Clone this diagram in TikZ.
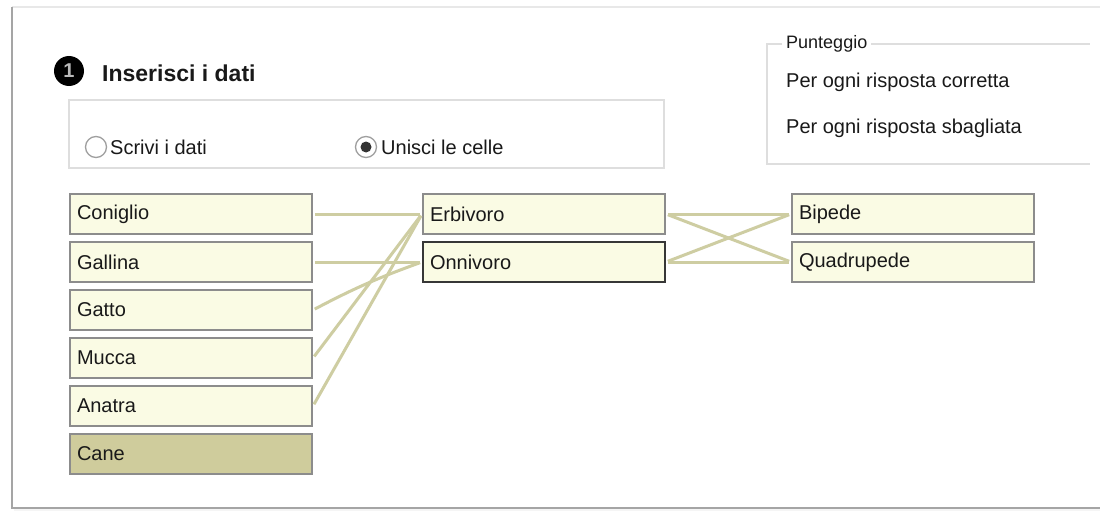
\documentclass[tikz,border=0pt]{standalone}
\usepackage{fontspec}
\setmainfont{Liberation Sans}
\definecolor{cellfill}{RGB}{250,251,228}
\definecolor{cellborder}{RGB}{140,140,140}
\definecolor{selfill}{RGB}{207,204,156}
\definecolor{linkcol}{RGB}{206,205,162}
\definecolor{framecol}{RGB}{165,165,165}
\definecolor{boxline}{RGB}{222,222,222}
\definecolor{txt}{RGB}{25,25,25}
\tikzset{
  cell/.style={rectangle, draw=cellborder, line width=2pt, fill=cellfill,
    anchor=north west, minimum height=40pt, text width=228pt, inner xsep=7pt,
    inner ysep=0pt, align=left, font=\fontsize{20}{24}\selectfont, text=txt},
  link/.style={draw=linkcol, line width=3pt, shorten <=2pt, shorten >=2pt},
  plain/.style={anchor=west, inner sep=0pt, font=\fontsize{20}{24}\selectfont, text=txt},
}
\begin{document}
\begin{tikzpicture}[x=1pt,y=-1pt]
\useasboundingbox (0,0) rectangle (1100,511);
\fill[white] (0,0) rectangle (1100,511);
% outer panel
\fill[gray!8] (14,9) rectangle (1100,511);
\fill[white] (12,7) rectangle (1100,508);
\draw[gray!18, line width=1.5pt] (12,7) -- (1100,7);
\draw[framecol, line width=1.5pt] (12,7) -- (12,508) -- (1100,508);
% title
\node[circle, fill=black, minimum size=30pt, inner sep=0pt, text=gray!55,
      font=\bfseries\fontsize{20}{20}\selectfont] (num) at (69,71) {1};
\node[anchor=west, inner sep=0pt, font=\bfseries\fontsize{23}{26}\selectfont, text=txt] (title) at (102,73) {Inserisci i dati};
% radio group
\draw[boxline, line width=1.5pt] (69,100) rectangle (664,168);
\node[circle, draw=gray!75, line width=1.3pt, fill=white, minimum size=21pt, inner sep=0pt] (r1) at (96,147) {};
\node[plain] (t1) at (110,147) {Scrivi i dati};
\node[circle, draw=gray!75, line width=1.3pt, fill=white, minimum size=21pt, inner sep=0pt] (r2) at (366,147) {};
\fill[black!80] (r2.center) circle (5.5pt);
\node[plain] (t2) at (381,147) {Unisci le celle};
% punteggio group
\node[anchor=west, inner sep=0pt, font=\fontsize{18}{20}\selectfont, text=txt] (pt) at (786,44) {Punteggio};
\draw[boxline, line width=1.5pt] (pt.west) ++(-4pt,0) -- (767,44) -- (767,164) -- (1090,164);
\draw[boxline, line width=1.5pt] (pt.east) ++(4pt,0) -- (1090,44);
\node[plain] (pc) at (786,82) {Per ogni risposta corretta};
\node[plain] (ps) at (786,128) {Per ogni risposta sbagliata};
% left column
\node[cell] (coniglio) at (69,193) {Coniglio};
\node[cell] (gallina) at (69,241) {Gallina};
\node[cell] (gatto) at (69,289) {Gatto};
\node[cell] (mucca) at (69,337) {Mucca};
\node[cell] (anatra) at (69,385) {Anatra};
\node[cell, fill=selfill] (cane) at (69,433) {Cane};
% middle column
\node[cell] (erb) at (422,193) {Erbivoro};
\node[cell, draw={rgb,255:red,55;green,55;blue,55}] (onn) at (422,241) {Onnivoro};
% right column
\node[cell] (bip) at (791,193) {Bipede};
\node[cell] (quad) at (791,241) {Quadrupede};
% links
\draw[link] (coniglio.east) -- (erb.west);
\draw[link] (gallina.east) -- (onn.west);
\draw[link] (gatto.east) to[bend left=4] (onn.west);
\draw[link] (mucca.east) -- (erb.west);
\draw[link] (anatra.east) -- (erb.west);
\draw[link] (erb.east) -- (bip.west);
\draw[link] (erb.east) -- (quad.west);
\draw[link] (onn.east) -- (bip.west);
\draw[link] (onn.east) -- (quad.west);
\end{tikzpicture}
\end{document}
